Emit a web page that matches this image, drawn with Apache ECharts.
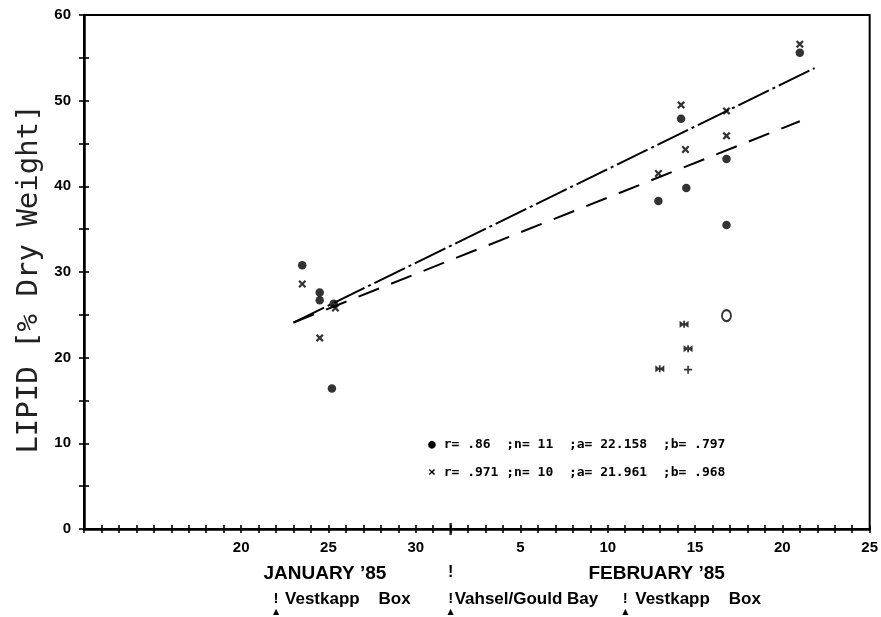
<!DOCTYPE html>
<html><head><meta charset="utf-8">
<script src="https://cdn.jsdelivr.net/npm/echarts@6/dist/echarts.min.js"></script>
<style>html,body{margin:0;padding:0;background:#fff}#c{width:881px;height:617px}</style>
</head><body><div id="c"></div>
<script>
// x values are day numbers counted from 1 January 1985 (Feb d = 31 + d)
const xMin = 11, xMax = 56;
const xTickLabelDays = [20, 25, 30, 36, 41, 46, 51, 56];
const xTickLabelTexts = ['20', '25', '30', '5', '10', '15', '20', '25'];
const yTickLabels = [0, 10, 20, 30, 40, 50, 60];

// filled circles
const circleX = [23.5, 24.5, 24.5, 25.3, 25.2, 43.9, 45.2, 45.5, 47.8, 47.8, 52.0];
const circleY = [30.8, 27.6, 26.7, 26.3, 16.4, 38.3, 47.9, 39.8, 43.2, 35.5, 55.6];
// crosses
const crossX = [23.5, 24.5, 25.4, 43.9, 45.2, 45.45, 47.8, 47.8, 52.0];
const crossY = [28.6, 22.3, 25.8, 41.5, 49.5, 44.3, 48.8, 45.9, 56.6];
// other symbols
const openCircleX = [47.8];
const openCircleY = [24.9];
const bowtieX = [45.37, 45.6, 43.98];
const bowtieY = [23.9, 21.05, 18.7];
const plusX = [45.6];
const plusY = [18.6];

// regression lines (end points)
const lineCrossX = [23.0, 52.85];
const lineCrossY = [24.1, 53.8];
const lineCircleX = [23.0, 52.0];
const lineCircleY = [24.1, 47.6];

const stationDays = [22, 32, 42];
const stationNames = ['Vestkapp    Box', 'Vahsel/Gould Bay', 'Vestkapp    Box'];
const monthDays = [24.8, 43.8];
const monthNames = ['JANUARY \u201985', 'FEBRUARY \u201985'];
const statLines = ['\u25CF r= .86  ;n= 11  ;a= 22.158  ;b= .797',
                   '\u00D7 r= .971 ;n= 10  ;a= 21.961  ;b= .968'];

const zip = (a, b) => a.map((v, i) => [v, b[i]]);

const X_PATH = 'path://M0,2 L2,0 L5,3 L8,0 L10,2 L7,5 L10,8 L8,10 L5,7 L2,10 L0,8 L3,5 Z';
const PLUS_PATH = 'path://M4,0 L6,0 L6,4 L10,4 L10,6 L6,6 L6,10 L4,10 L4,6 L0,6 L0,4 L4,4 Z';
const BOW_PATH = 'path://M0,0 L4,3 L4,0 L6,0 L6,3 L10,0 L10,8 L6,5 L6,8 L4,8 L4,5 L0,8 Z';

const chart = echarts.init(document.getElementById('c'), null, {renderer: 'canvas'});

const tickStyle = {color: '#000', width: 1.6};
const baseX = {
  type: 'value', min: xMin, max: xMax, interval: 1, position: 'bottom',
  splitLine: {show: false},
};
const baseY = {
  type: 'value', min: 0, max: 60, interval: 5, position: 'left',
  splitLine: {show: false},
};

chart.setOption({
  animation: false,
  backgroundColor: '#fff',
  grid: {left: 84, right: 11, top: 15, bottom: 88, show: true, borderColor: '#000', borderWidth: 2},
  xAxis: [
    Object.assign({}, baseX, {
      axisLine: {show: true, lineStyle: {color: '#000', width: 2.5}},
      axisTick: {show: true, inside: false, length: 4, lineStyle: tickStyle},
      axisLabel: {
        show: true, margin: 11, color: '#000', fontSize: 15, fontWeight: 'bold',
        fontFamily: 'Liberation Sans', showMinLabel: true, showMaxLabel: true,
        formatter: v => { const i = xTickLabelDays.indexOf(Math.round(v)); return i >= 0 ? xTickLabelTexts[i] : ''; }
      }
    }),
    Object.assign({}, baseX, {
      axisLine: {show: false},
      axisTick: {show: true, inside: true, length: 4, lineStyle: tickStyle},
      axisLabel: {show: false}
    })
  ],
  yAxis: [
    Object.assign({}, baseY, {
      axisLine: {show: true, lineStyle: {color: '#000', width: 2.5}},
      axisTick: {show: true, inside: false, length: 5, lineStyle: tickStyle},
      axisLabel: {
        show: true, margin: 13, color: '#000', fontSize: 15, fontWeight: 'bold',
        fontFamily: 'Liberation Sans',
        formatter: v => yTickLabels.indexOf(Math.round(v)) >= 0 ? String(Math.round(v)) : ''
      }
    }),
    Object.assign({}, baseY, {
      axisLine: {show: false},
      axisTick: {show: true, inside: true, length: 5, lineStyle: tickStyle},
      axisLabel: {show: false}
    })
  ],
  series: [
    {type: 'line', data: zip(lineCrossX, lineCrossY), symbol: 'none', silent: true,
     lineStyle: {color: '#000', width: 2, type: [34, 4, 3, 4]}},
    {type: 'line', data: zip(lineCircleX, lineCircleY), symbol: 'none', silent: true,
     lineStyle: {color: '#000', width: 2, type: [22, 13]}},
    {type: 'scatter', data: zip(circleX, circleY), symbol: 'circle', symbolSize: 8.5,
     itemStyle: {color: '#000'}},
    {type: 'scatter', data: zip(crossX, crossY), symbol: X_PATH, symbolSize: 8,
     itemStyle: {color: '#000'}},
    {type: 'scatter', data: zip(openCircleX, openCircleY), symbol: 'emptyCircle', symbolSize: [9, 11],
     itemStyle: {color: '#000', borderColor: '#000', borderWidth: 2.6}},
    {type: 'scatter', data: zip(bowtieX, bowtieY), symbol: BOW_PATH, symbolSize: [9, 7],
     itemStyle: {color: '#000'}},
    {type: 'scatter', data: zip(plusX, plusY), symbol: PLUS_PATH, symbolSize: 8,
     itemStyle: {color: '#000'}},
    // longer tick marking 1 February
    {type: 'scatter', data: [[stationDays[1], 0]], symbol: 'rect', symbolSize: [2.5, 12], clip: false,
     itemStyle: {color: '#000'}, z: 5}
  ]
});

const px = d => chart.convertToPixel({xAxisIndex: 0}, d);
const y0 = chart.convertToPixel({yAxisIndex: 0}, 0);
const boldFont = (s) => 'bold ' + s + 'px "Liberation Sans", Arial, sans-serif';
const g = [];

// y-axis title
g.push({type: 'text', x: 29, y: 279, rotation: Math.PI / 2,
  style: {text: 'LIPID [% Dry Weight]', align: 'center', verticalAlign: 'middle',
          font: '29px "DejaVu Sans Mono", monospace', fill: '#222'}});

// month labels
monthNames.forEach((t, i) => g.push({type: 'text', x: px(monthDays[i]), y: y0 + 45,
  style: {text: t, align: 'center', verticalAlign: 'middle', font: boldFont(19), fill: '#000'}}));
g.push({type: 'text', x: px(stationDays[1]), y: y0 + 44,
  style: {text: '!', align: 'center', verticalAlign: 'middle', font: boldFont(16), fill: '#000'}});

// station labels with markers
const offs = [9, 4, 10];
stationDays.forEach((d, i) => {
  const x = px(d);
  g.push({type: 'text', x: x, y: y0 + 70,
    style: {text: '!', align: 'center', verticalAlign: 'middle', font: boldFont(15), fill: '#000'}});
  g.push({type: 'text', x: x, y: y0 + 83,
    style: {text: '\u25B2', align: 'center', verticalAlign: 'middle', font: '8px "DejaVu Sans", sans-serif', fill: '#000'}});
  g.push({type: 'text', x: x + offs[i], y: y0 + 70,
    style: {text: stationNames[i], align: 'left', verticalAlign: 'middle', font: boldFont(17), fill: '#000'}});
});

// regression statistics
statLines.forEach((t, i) => g.push({type: 'text', x: 428, y: 445 + i * 28,
  style: {text: t, align: 'left', verticalAlign: 'middle', font: 'bold 13px "DejaVu Sans Mono", monospace', fill: '#000'}}));

chart.setOption({graphic: g});
</script>
</body></html>
